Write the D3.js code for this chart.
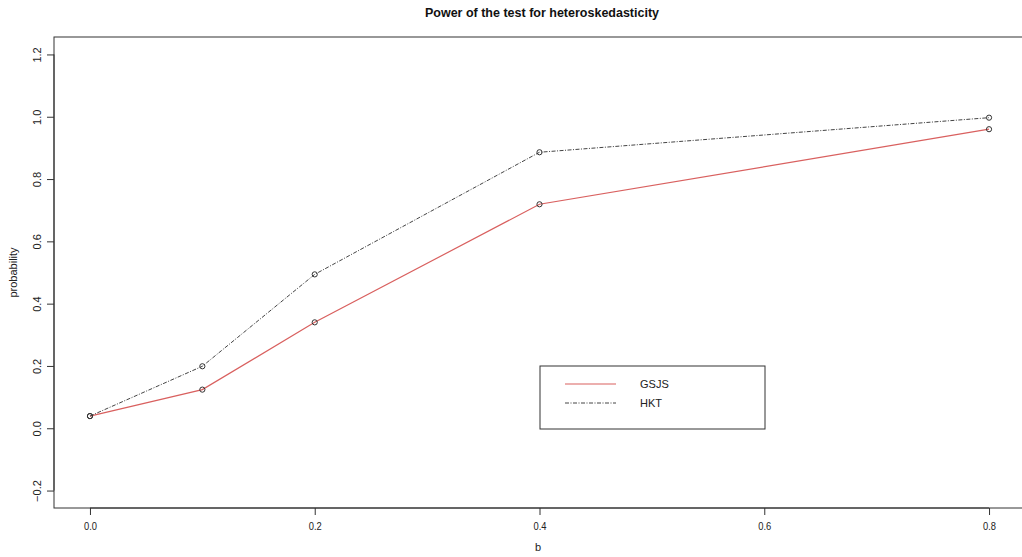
<!DOCTYPE html>
<html>
<head>
<meta charset="utf-8">
<script src="https://cdn.jsdelivr.net/npm/d3@7"></script>
<style>
  body { margin: 0; background: #fff; }
  text { font-family: "Liberation Sans", Arial, sans-serif; }
</style>
</head>
<body>
<svg id="chart"></svg>
<script>
// data
const b = [0, 0.1, 0.2, 0.4, 0.8];
const gsjs = [0.039, 0.124, 0.34, 0.719, 0.96];
const hkt = [0.039, 0.199, 0.494, 0.886, 0.997];
const xTicks = [0, 0.2, 0.4, 0.6, 0.8];
const yTicks = [-0.2, 0, 0.2, 0.4, 0.6, 0.8, 1.0, 1.2];
const seriesNames = ["GSJS", "HKT"];

const width = 1022, height = 557;
const svg = d3.select("#chart").attr("width", width).attr("height", height);

// R style: usr range = data range + 4%
const x = d3.scaleLinear().domain([-0.032, 0.832]).range([54, 1025]);
const y = d3.scaleLinear().domain([-0.256, 1.256]).range([508, 37]);

const red = "#d9605f", dark = "#444";

// box
svg.append("rect")
  .attr("x", x(-0.032)).attr("y", y(1.256))
  .attr("width", x(0.832) - x(-0.032)).attr("height", y(-0.256) - y(1.256))
  .attr("fill", "none").attr("stroke", "#333").attr("stroke-width", 1);

// axes
const xAxis = svg.append("g")
  .attr("transform", `translate(0,${y(-0.256)})`)
  .call(d3.axisBottom(x).tickValues(xTicks).tickFormat(d3.format(".1f")).tickSize(7).tickSizeOuter(0));
xAxis.select(".domain").attr("d", `M${x(0)},0H${x(0.8)}`).attr("stroke", "#333");
xAxis.selectAll(".tick line").attr("stroke", "#333");
xAxis.selectAll(".tick text").attr("font-size", 11).attr("dy", "1.05em")
  .attr("fill", "#222")
  .attr("textLength", 13).attr("lengthAdjust", "spacingAndGlyphs");

const yAxis = svg.append("g")
  .attr("transform", `translate(${x(-0.032)},0)`)
  .call(d3.axisLeft(y).tickValues(yTicks).tickFormat(d3.format(".1f")).tickSize(7).tickSizeOuter(0));
yAxis.select(".domain").attr("d", `M0,${y(-0.2)}V${y(1.2)}`).attr("stroke", "#333");
yAxis.selectAll(".tick line").attr("stroke", "#333");
yAxis.selectAll(".tick text")
  .attr("x", null).attr("dy", null)
  .attr("transform", "translate(-13,0) rotate(-90)")
  .attr("text-anchor", "middle").attr("font-size", 11).attr("fill", "#222");

// titles
svg.append("text").attr("x", 542).attr("y", 17).attr("text-anchor", "middle")
  .attr("font-size", 12.5).attr("font-weight", "bold").attr("fill", "#111")
  .text("Power of the test for heteroskedasticity");
svg.append("text").attr("x", 538).attr("y", 551).attr("text-anchor", "middle")
  .attr("font-size", 11).attr("fill", "#222").text("b");
svg.append("text").attr("transform", `translate(17,${y(0.5)}) rotate(-90)`)
  .attr("text-anchor", "middle").attr("font-size", 11).attr("fill", "#222").text("probability");

// lines
const line = d3.line().x((d, i) => x(b[i])).y(d => y(d));
const series = [
  { name: seriesNames[0], values: gsjs, color: red, dash: null, width: 1.2 },
  { name: seriesNames[1], values: hkt, color: dark, dash: "4,1.5,1,1.5", width: 1 }
];

series.forEach(s => {
  svg.append("path").attr("d", line(s.values)).attr("fill", "none")
    .attr("stroke", s.color).attr("stroke-width", s.width).attr("stroke-dasharray", s.dash);
  svg.selectAll(null).data(s.values).join("circle")
    .attr("cx", (d, i) => x(b[i])).attr("cy", d => y(d)).attr("r", 2.6)
    .attr("fill", "none").attr("stroke", "#333").attr("stroke-width", 1);
});

// legend
const leg = svg.append("g");
leg.append("rect").attr("x", 540).attr("y", 366).attr("width", 225).attr("height", 63)
  .attr("fill", "#fff").attr("stroke", "#333");
series.forEach((s, i) => {
  const ly = 384 + i * 19;
  leg.append("line").attr("x1", 565).attr("x2", 616).attr("y1", ly).attr("y2", ly)
    .attr("stroke", s.color).attr("stroke-width", s.width).attr("stroke-dasharray", s.dash);
  leg.append("text").attr("x", 640).attr("y", ly + 4).attr("font-size", 11)
    .attr("fill", "#222").text(s.name);
});
</script>
</body>
</html>
